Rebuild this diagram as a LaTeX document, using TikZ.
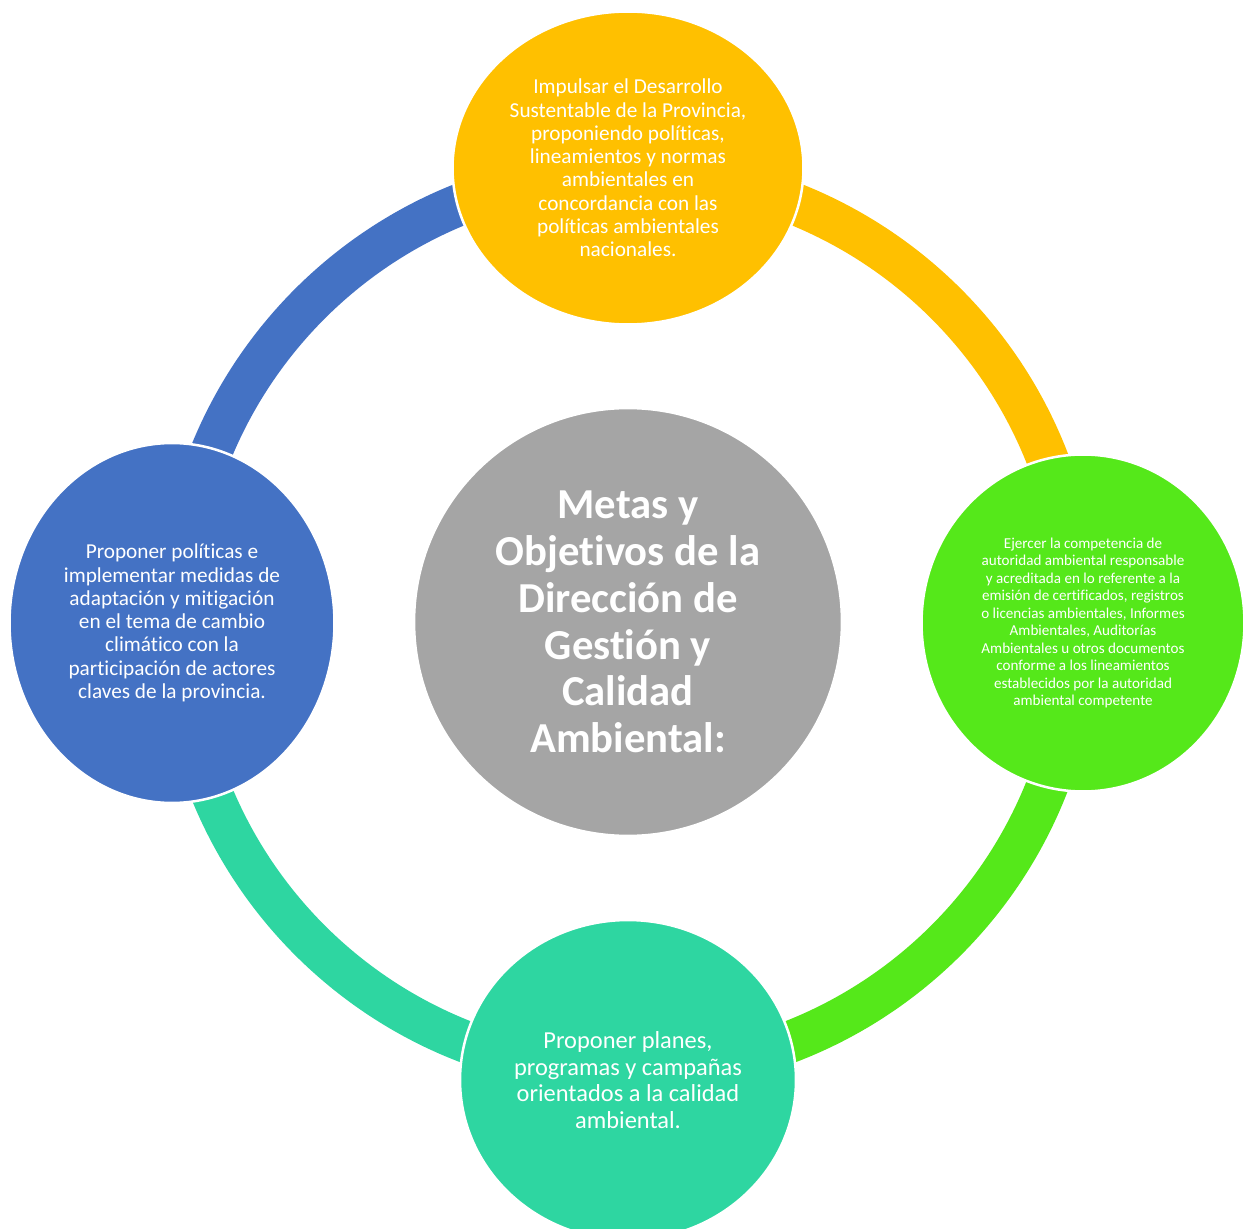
\documentclass[tikz,border=0pt]{standalone}
\usepackage{fontspec}
\setmainfont{Carlito}[Ligatures=NoCommon]
\usepackage{tikz}
\usetikzlibrary{shapes.geometric}
\usepackage{xcolor}
\definecolor{goalGray}{RGB}{165,165,165}
\definecolor{goalYellow}{RGB}{255,192,0}
\definecolor{goalBlue}{RGB}{68,114,196}
\definecolor{goalGreen}{RGB}{85,232,26}
\definecolor{goalTeal}{RGB}{46,214,161}

\tikzset{
  goal/.style={ellipse, draw=white, line width=0.05cm, inner sep=0pt, text=white, align=center},
  ringpart/.style={line width=0.84cm},
}

\begin{document}
\begin{tikzpicture}[x=0.02cm, y=0.02cm]
  \clip (0,0) rectangle (1250,1228);
  \coordinate (hub) at (628,606);

  % Ring, one colour for each quarter
  \draw[ringpart, goalBlue] (hub) ++(180:450) arc[start angle=180, end angle=90, radius=9cm];
  \draw[ringpart, goalYellow] (hub) ++(90:450) arc[start angle=90, end angle=0, radius=9cm];
  \draw[ringpart, goalGreen] (hub) ++(0:450) arc[start angle=0, end angle=-90, radius=9cm];
  \draw[ringpart, goalTeal] (hub) ++(-90:450) arc[start angle=-90, end angle=-180, radius=9cm];

  % Centre
  \node[goal, circle, fill=goalGray, minimum size=8.56cm,
    font=\fontsize{24.3}{26.6}\selectfont\bfseries] (core) at (hub)
    {Metas y\\Objetivos de la\\Dirección de\\Gestión y\\Calidad\\Ambiental:};

  % Four goals on the ring
  \node[goal, fill=goalYellow, minimum width=7.02cm, minimum height=6.26cm,
    font=\fontsize{12.1}{13.26}\selectfont] (top) at (628,1060)
    {Impulsar el Desarrollo\\Sustentable de la Provincia,\\proponiendo políticas,\\lineamientos y normas\\ambientales en\\concordancia con las\\políticas ambientales\\nacionales.};
  \node[goal, fill=goalGreen, minimum width=6.46cm, minimum height=6.74cm,
    font=\fontsize{8.6}{9.96}\selectfont] (right) at (1083,605)
    {Ejercer la competencia de\\autoridad ambiental responsable\\y acreditada en lo referente a la\\emisión de certificados, registros\\o licencias ambientales, Informes\\Ambientales, Auditorías\\Ambientales u otros documentos\\conforme a los lineamientos\\establecidos por la autoridad\\ambiental competente};
  \node[goal, fill=goalTeal, minimum width=6.72cm, minimum height=6.4cm,
    font=\fontsize{13.9}{15.2}\selectfont] (bottom) at (628,148)
    {Proponer planes,\\programas y campañas\\orientados a la calidad\\ambiental.};
  \node[goal, fill=goalBlue, minimum width=6.5cm, minimum height=7.2cm,
    font=\fontsize{12.1}{13.26}\selectfont] (left) at (172,605)
    {Proponer políticas e\\implementar medidas de\\adaptación y mitigación\\en el tema de cambio\\climático con la\\participación de actores\\claves de la provincia.};
\end{tikzpicture}
\end{document}
